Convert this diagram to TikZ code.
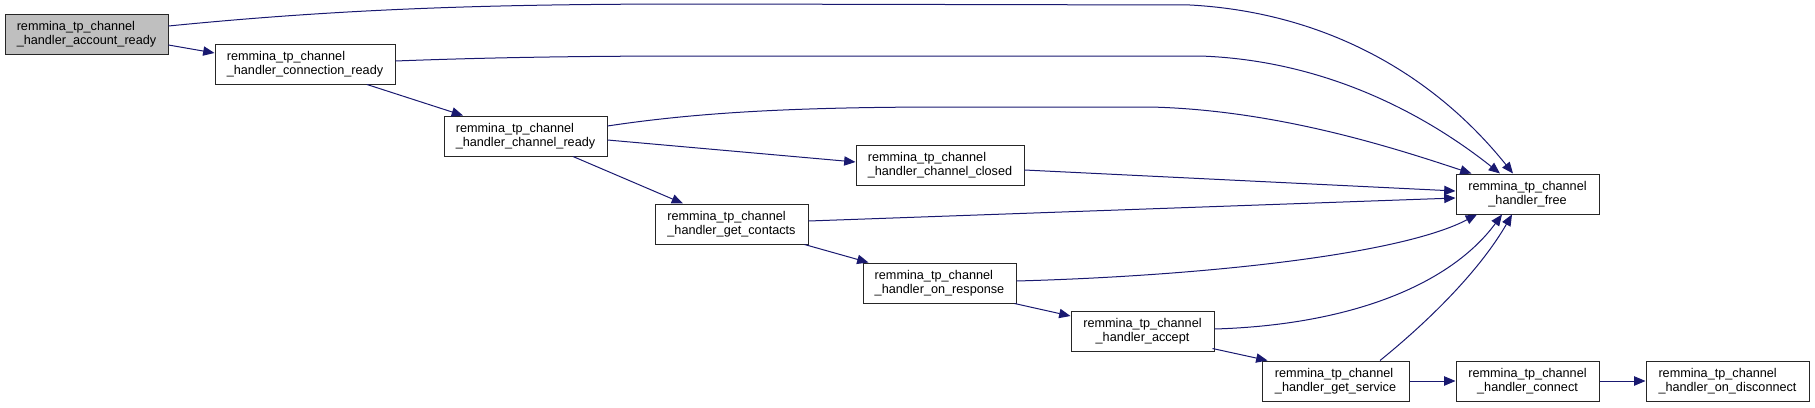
\documentclass[tikz,border=0pt]{standalone}
\usepackage{fontspec}
\setmainfont{Liberation Sans}
\usetikzlibrary{arrows.meta}
\definecolor{edgeblue}{HTML}{191970}
\definecolor{boxgray}{HTML}{BFBFBF}
\newlength\dlabA
\newlength\dlabB
\newcommand\dlab[2]{\settowidth\dlabA{#1}\settowidth\dlabB{#2}\ifdim\dlabA<\dlabB\makebox[\dlabB][l]{#1}\else#1\fi\\#2}
\begin{document}
\begin{tikzpicture}[x=0.75pt,y=-0.75pt,
  fn/.style={draw=black!85, line width=0.75pt, fill=white, rectangle, align=center,
    minimum height=30pt, inner sep=0pt, font=\fontsize{9.5}{10.5}\selectfont, text=black},
  call/.style={draw=edgeblue, line width=0.75pt, -{Triangle[length=8.5pt,width=7pt]}}]
\useasboundingbox (0,0) rectangle (1815,407);

\node[fn, fill=boxgray, minimum width=122.25pt] (acc) at (86.5,34) {\dlab{remmina\_tp\_channel}{\_handler\_account\_ready}};
\node[fn, minimum width=135pt] (con) at (305,64) {\dlab{remmina\_tp\_channel}{\_handler\_connection\_ready}};
\node[fn, minimum width=122.25pt] (chr) at (525.5,136) {\dlab{remmina\_tp\_channel}{\_handler\_channel\_ready}};
\node[fn, minimum width=126pt] (chc) at (940,165) {\dlab{remmina\_tp\_channel}{\_handler\_channel\_closed}};
\node[fn, minimum width=114.75pt] (gc) at (731.5,224) {\dlab{remmina\_tp\_channel}{\_handler\_get\_contacts}};
\node[fn, minimum width=114.75pt] (onr) at (939.5,283) {\dlab{remmina\_tp\_channel}{\_handler\_on\_response}};
\node[fn, minimum width=107.25pt] (acp) at (1142.5,331) {\dlab{remmina\_tp\_channel}{\_handler\_accept}};
\node[fn, minimum width=110.25pt] (gs) at (1335.5,381) {\dlab{remmina\_tp\_channel}{\_handler\_get\_service}};
\node[fn, minimum width=107.25pt] (cn) at (1527.5,381) {\dlab{remmina\_tp\_channel}{\_handler\_connect}};
\node[fn, minimum width=122.25pt] (od) at (1727.5,381) {\dlab{remmina\_tp\_channel}{\_handler\_on\_disconnect}};
\node[fn, minimum width=107.25pt] (fr) at (1527.5,194) {\dlab{remmina\_tp\_channel}{\_handler\_free}};

\draw[call] ([shift={(0,-8)}]acc.east) .. controls (350,8) and (500,4) .. (700,4) -- (1190,5) .. controls (1320,12) and (1430,70) .. ([shift={(-14.5,0)}]fr.north);
\draw[call] ([shift={(0,11)}]acc.east) -- ([shift={(0,-11)}]con.west);
\draw[call] ([shift={(0,-3)}]con.east) .. controls (500,57) and (600,56) .. (700,56) -- (1200,56) .. controls (1320,60) and (1420,110) .. ([shift={(-27.5,0)}]fr.north);
\draw[call] ([shift={(62,0)}]con.south) -- ([shift={(-62.5,0)}]chr.north);
\draw[call] ([shift={(0,-10)}]chr.east) .. controls (700,112) and (800,107) .. (950,107) -- (1150,107) .. controls (1280,110) and (1400,150) .. ([shift={(16,0)}]fr.north west);
\draw[call] ([shift={(0,4)}]chr.east) -- ([shift={(0,-3)}]chc.west);
\draw[call] ([shift={(47.5,0)}]chr.south) -- ([shift={(-48.5,0)}]gc.north);
\draw[call] ([shift={(0,5)}]chc.east) -- ([shift={(0,-3)}]fr.west);
\draw[call] ([shift={(0,-3)}]gc.east) -- ([shift={(0,4)}]fr.west);
\draw[call] ([shift={(-4,0)}]gc.south east) -- ([shift={(6,0)}]onr.north west);
\draw[call] ([shift={(0,-2)}]onr.east) .. controls (1200,276) and (1400,255) .. ([shift={(-50.5,0)}]fr.south);
\draw[call] ([shift={(-2,0)}]onr.south east) -- ([shift={(0,-15)}]acp.west);
\draw[call] ([shift={(0,-2)}]acp.east) .. controls (1350,325) and (1450,285) .. ([shift={(-25.5,0)}]fr.south);
\draw[call] ([shift={(-2,-3)}]acp.south east) -- ([shift={(6,0)}]gs.north west);
\draw[call] ([shift={(44.5,0)}]gs.north) .. controls (1430,320) and (1480,270) .. ([shift={(-15.5,0)}]fr.south);
\draw[call] (gs.east) -- (cn.west);
\draw[call] (cn.east) -- (od.west);
\end{tikzpicture}
\end{document}
